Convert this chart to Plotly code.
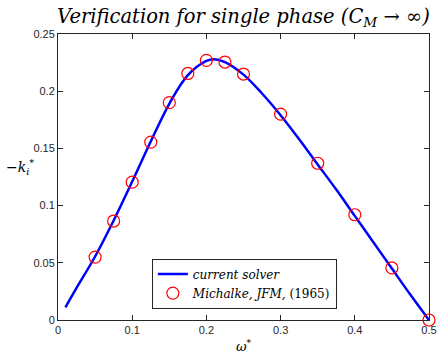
import plotly.graph_objects as go

# Data
curve_w = [0.01, 0.025, 0.05, 0.075, 0.1, 0.125, 0.15, 0.175, 0.2, 0.21, 0.225,
           0.25, 0.275, 0.3, 0.325, 0.35, 0.375, 0.4, 0.425, 0.45, 0.475, 0.5]
curve_k = [0.011, 0.028, 0.0555, 0.087, 0.121, 0.156, 0.189, 0.214, 0.2265, 0.228, 0.2255,
           0.2145, 0.198, 0.179, 0.158, 0.136, 0.114, 0.091, 0.068, 0.045, 0.022, 0.0]

ref_w = [0.05, 0.075, 0.1, 0.125, 0.15, 0.175, 0.2, 0.225, 0.25, 0.3, 0.35, 0.4, 0.45, 0.5]
ref_k = [0.055, 0.0865, 0.1205, 0.1555, 0.190, 0.2155, 0.227, 0.2255, 0.2150, 0.180,
         0.137, 0.092, 0.0455, 0.0]

x_ticks = [0, 0.1, 0.2, 0.3, 0.4, 0.5]
x_labels = ["0", "0.1", "0.2", "0.3", "0.4", "0.5"]
y_ticks = [0, 0.05, 0.1, 0.15, 0.2, 0.25]
y_labels = ["0", "0.05", "0.1", "0.15", "0.2", "0.25"]

serif = "DejaVu Serif"
sans = "Liberation Sans"

fig = go.Figure()
fig.add_trace(go.Scatter(
    x=curve_w, y=curve_k, mode="lines", line=dict(color="#0000ff", width=2.5, shape="spline"),
    name="<i>current solver</i>"))
fig.add_trace(go.Scatter(
    x=ref_w, y=ref_k, mode="markers",
    marker=dict(symbol="circle-open", size=12, color="#ff0000", line=dict(width=1.2, color="#ff0000")),
    name="<i>Michalke, JFM,</i> (1965)", cliponaxis=False))

axis_common = dict(
    showline=True, linecolor="#262626", linewidth=1, mirror="ticks",
    ticks="inside", ticklen=5, tickcolor="#262626", showgrid=False, zeroline=False,
    tickfont=dict(family=sans, size=11, color="#262626"),
)

fig.update_layout(
    width=446, height=355,
    margin=dict(l=58, r=9, t=34, b=35),
    paper_bgcolor="white", plot_bgcolor="white",
    title=dict(text="<i>Verification for single phase (C<sub>M</sub> → ∞)</i>",
               xref="paper", x=0.5, xanchor="center", y=0.955, yanchor="middle",
               font=dict(family=serif, size=19.5, color="black")),
    xaxis=dict(range=[0, 0.5], tickvals=x_ticks, ticktext=x_labels, **axis_common),
    yaxis=dict(range=[0, 0.25], tickvals=y_ticks, ticktext=y_labels, **axis_common),
    legend=dict(x=0.253, y=0.04, xanchor="left", yanchor="bottom",
                bordercolor="#262626", borderwidth=1, bgcolor="white",
                font=dict(family=serif, size=12, color="black"),
                tracegroupgap=0, itemwidth=30),
    showlegend=True,
)

fig.add_annotation(text="<i>ω</i><sup>*</sup>", xref="paper", yref="paper", x=0.5, y=-0.09,
                   xanchor="center", yanchor="middle", showarrow=False,
                   font=dict(family=serif, size=13, color="black"))
fig.add_annotation(text="−<i>k<sub>i</sub></i><sup>*</sup>", xref="paper", yref="paper",
                   x=-0.06, y=0.535, xanchor="right", yanchor="middle", showarrow=False,
                   font=dict(family=serif, size=14, color="black"))

fig.write_html("out.html", config={"displayModeBar": False},
               post_script="document.body.style.margin='0';")
